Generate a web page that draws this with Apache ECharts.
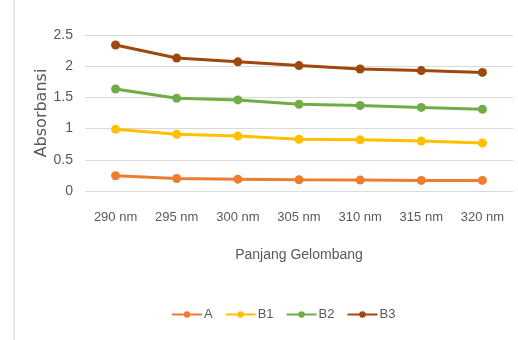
<!DOCTYPE html>
<html>
<head>
<meta charset="utf-8">
<script src="https://cdn.jsdelivr.net/npm/echarts@6/dist/echarts.min.js"></script>
<style>
  html, body { margin: 0; padding: 0; background: #fff; }
  #chart { width: 518px; height: 340px; }
</style>
</head>
<body>
<div id="chart"></div>
<script>
// Wavelength categories
const wavelengths = ['290 nm', '295 nm', '300 nm', '305 nm', '310 nm', '315 nm', '320 nm'];

// Absorbance per sample
const seriesA  = [0.245, 0.20, 0.19, 0.18, 0.175, 0.17, 0.17];
const seriesB1 = [0.99, 0.91, 0.88, 0.83, 0.82, 0.80, 0.77];
const seriesB2 = [1.635, 1.485, 1.46, 1.39, 1.37, 1.34, 1.31];
const seriesB3 = [2.34, 2.13, 2.07, 2.01, 1.955, 1.93, 1.90];

const seriesNames = ['A', 'B1', 'B2', 'B3'];
const seriesColors = ['#ED7D31', '#FFC000', '#70AD47', '#9E480E'];
const seriesData = [seriesA, seriesB1, seriesB2, seriesB3];

const labelFont = '"Liberation Sans Narrow", "Liberation Sans", sans-serif';

const chart = echarts.init(document.getElementById('chart'), null, { renderer: 'canvas' });

chart.setOption({
  animation: false,
  backgroundColor: '#ffffff',
  grid: { left: 85, right: 5, top: 35, bottom: 149 },
  legend: {
    data: seriesNames,
    left: 166,
    top: 303,
    itemWidth: 30,
    itemHeight: 8,
    itemGap: 12,
    textStyle: { color: '#595959', fontSize: 13, fontFamily: labelFont, padding: [0, 0, 0, -3] }
  },
  xAxis: {
    type: 'category',
    data: wavelengths,
    boundaryGap: true,
    name: 'Panjang Gelombang',
    nameLocation: 'middle',
    nameGap: 57,
    nameMoveOverlap: false,
    nameTextStyle: { color: '#595959', fontSize: 14, fontFamily: labelFont },
    axisLine: { show: false },
    axisTick: { show: false },
    axisLabel: { color: '#595959', fontSize: 13, fontFamily: labelFont, margin: 20 }
  },
  yAxis: {
    type: 'value',
    min: 0,
    max: 2.5,
    interval: 0.5,
    name: 'Absorbansi',
    nameLocation: 'middle',
    nameGap: 35,
    nameMoveOverlap: false,
    nameTextStyle: { color: '#595959', fontSize: 16, fontFamily: '"DejaVu Sans", sans-serif' },
    axisLine: { show: false },
    axisTick: { show: false },
    axisLabel: { color: '#595959', fontSize: 14, fontFamily: labelFont, margin: 12 },
    splitLine: { lineStyle: { color: '#d9d9d9', width: 1 } }
  },
  graphic: [
    {
      type: 'rect',
      shape: { x: 13, y: 0, width: 2, height: 340 },
      style: { fill: '#e6e6e6' },
      silent: true
    }
  ],
  series: seriesNames.map((name, i) => ({
    name: name,
    type: 'line',
    data: seriesData[i],
    symbol: 'circle',
    symbolSize: 9,
    lineStyle: { width: 3, color: seriesColors[i] },
    itemStyle: { color: seriesColors[i] }
  }))
});
</script>
</body>
</html>
